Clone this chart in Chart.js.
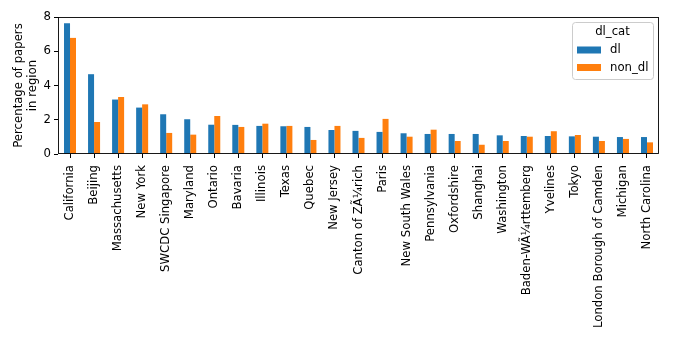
<!DOCTYPE html>
<html>
<head>
<meta charset="utf-8">
<script src="https://cdn.jsdelivr.net/npm/chart.js@4/dist/chart.umd.min.js"></script>
<style>
  html, body { margin: 0; padding: 0; background: #fff; }
  #wrap { width: 676px; height: 339px; }
</style>
</head>
<body>
<div id="wrap"><canvas id="barChart"></canvas></div>
<script>
const regions = ['California', 'Beijing', 'Massachusetts', 'New York', 'SWCDC Singapore', 'Maryland',
    'Ontario', 'Bavaria', 'Illinois', 'Texas', 'Quebec', 'New Jersey', 'Canton of ZÃ¼rich', 'Paris',
    'New South Wales', 'Pennsylvania', 'Oxfordshire', 'Shanghai', 'Washington', 'Baden-WÃ¼rttemberg',
    'Yvelines', 'Tokyo', 'London Borough of Camden', 'Michigan', 'North Carolina'];
const dlValues = [7.64, 4.66, 3.18, 2.71, 2.32, 2.03, 1.71, 1.70, 1.64, 1.62, 1.58, 1.40, 1.35, 1.29,
    1.21, 1.17, 1.17, 1.17, 1.09, 1.05, 1.05, 1.03, 1.01, 0.99, 0.99];
const nonDlValues = [6.78, 1.87, 3.33, 2.90, 1.23, 1.13, 2.22, 1.58, 1.77, 1.64, 0.82, 1.64, 0.94, 2.05,
    1.01, 1.42, 0.76, 0.54, 0.76, 1.01, 1.33, 1.11, 0.76, 0.88, 0.68];
const seriesNames = ['dl', 'non_dl'];
const legendTitle = 'dl_cat';
const yTicks = [0, 2, 4, 6, 8];

const FONT = 'DejaVu Sans';
const FS = 11.7;
Chart.defaults.font.family = FONT;
Chart.defaults.font.size = FS;
Chart.defaults.color = '#000';

// matplotlib-like frame and legend box
const framePlugin = {
    id: 'frame',
    afterDraw (chart) {
        const ctx = chart.ctx;
        const a = chart.chartArea;
        ctx.save();
        ctx.strokeStyle = '#000';
        ctx.lineWidth = 0.9;
        ctx.strokeRect(Math.round(a.left) + 0.5, Math.round(a.top) + 0.5,
            Math.round(a.right - a.left) - 1, Math.round(a.bottom - a.top) - 1);

        // legend
        const bx = 572, by = 22, bw = 81, bh = 57;
        ctx.beginPath();
        ctx.roundRect(bx + 0.5, by + 0.5, bw, bh, 3);
        ctx.fillStyle = 'rgba(255,255,255,0.8)';
        ctx.fill();
        ctx.strokeStyle = '#cccccc';
        ctx.lineWidth = 1;
        ctx.stroke();

        ctx.font = FS + 'px "' + FONT + '"';
        ctx.fillStyle = '#000';
        ctx.textBaseline = 'middle';
        ctx.textAlign = 'center';
        ctx.fillText(legendTitle, bx + bw / 2, by + 10);
        ctx.textAlign = 'left';
        chart.data.datasets.forEach((ds, i) => {
            const y = by + 28 + i * 17.5;
            ctx.fillStyle = ds.backgroundColor;
            ctx.fillRect(bx + 5, y - 3.5, 24, 7);
            ctx.fillStyle = '#000';
            ctx.fillText(ds.label, bx + 38, y);
        });
        ctx.restore();
    }
};

const chart = new Chart(document.getElementById('barChart').getContext('2d'), {
    type: 'bar',
    data: {
        labels: regions,
        datasets: [{
            label: seriesNames[0],
            backgroundColor: '#1f77b4',
            data: dlValues
        }, {
            label: seriesNames[1],
            backgroundColor: '#ff7f0e',
            data: nonDlValues
        }]
    },
    options: {
        responsive: true,
        maintainAspectRatio: false,
        animation: false,
        layout: { padding: { top: 17, right: 17, left: 0, bottom: 0 } },
        datasets: { bar: { categoryPercentage: 0.5, barPercentage: 1.0, borderWidth: 0 } },
        plugins: { legend: { display: false }, tooltip: { enabled: false } },
        scales: {
            x: {
                border: { display: false },
                grid: { display: true, drawOnChartArea: false, drawTicks: true, tickLength: 4, offset: false, color: '#000' },
                ticks: { minRotation: 90, maxRotation: 90, autoSkip: false, padding: 7 },
                afterFit (scale) { scale.height = 185; }
            },
            y: {
                min: 0,
                max: 8,
                border: { display: false },
                grid: { display: true, drawOnChartArea: false, drawTicks: true, tickLength: 4, color: '#000' },
                ticks: { stepSize: 2, padding: 3 },
                afterBuildTicks (scale) { scale.ticks = yTicks.map(v => ({ value: v })); },
                title: {
                    display: true,
                    text: ['Percentage of papers', 'in region'],
                    padding: { top: 12, bottom: 0 }
                },
                afterFit (scale) { scale.width = 58; }
            }
        }
    },
    plugins: [framePlugin]
});
</script>
</body>
</html>
